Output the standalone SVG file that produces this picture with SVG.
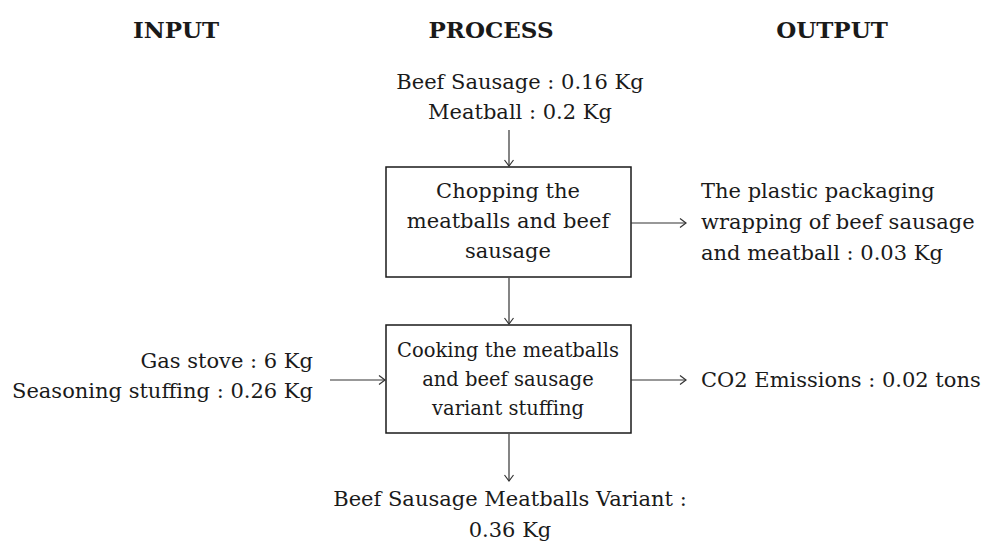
<svg xmlns="http://www.w3.org/2000/svg" width="989" height="543" viewBox="0 0 989 543">
<style>
text{font-family:"DejaVu Serif","Liberation Serif",serif;fill:#1a1a1a;font-size:21px}
.h{font-weight:bold;font-size:23px;text-anchor:middle}
.c{text-anchor:middle}
.r{text-anchor:end}
.s{font-size:19.5px}
.box{fill:#fff;stroke:#1a1a1a;stroke-width:1.5}
.ln{stroke:#333;stroke-width:1.2;fill:none;marker-end:url(#a)}
</style>
<defs>
<marker id="a" markerWidth="12" markerHeight="12" refX="9" refY="6" orient="auto" markerUnits="userSpaceOnUse">
<polyline points="3,1.5 9,6 3,10.5" fill="none" stroke="#333" stroke-width="1.2"/>
</marker>
</defs>
<rect width="989" height="543" fill="#fff"/>
<g id="headers">
<text class="h" x="176" y="38">INPUT</text>
<text class="h" x="491" y="38">PROCESS</text>
<text class="h" x="832" y="38">OUTPUT</text>
</g>
<g id="in1">
<text class="c" x="520" y="89">Beef Sausage : 0.16 Kg</text>
<text class="c" x="520" y="119">Meatball : 0.2 Kg</text>
</g>
<g id="p1">
<rect class="box" x="386" y="167" width="245" height="110"/>
<text class="c" x="508" y="198">Chopping the</text>
<text class="c" x="508" y="228">meatballs and beef</text>
<text class="c" x="508" y="258">sausage</text>
</g>
<g id="p2">
<rect class="box" x="386" y="325" width="245" height="108"/>
<text class="c s" x="508" y="357">Cooking the meatballs</text>
<text class="c s" x="508" y="386">and beef sausage</text>
<text class="c s" x="508" y="415">variant stuffing</text>
</g>
<g id="in2">
<text class="r" x="313" y="368">Gas stove : 6 Kg</text>
<text class="r" x="313" y="398">Seasoning stuffing : 0.26 Kg</text>
</g>
<g id="out1">
<text x="701" y="198">The plastic packaging</text>
<text x="701" y="229">wrapping of beef sausage</text>
<text x="701" y="260">and meatball : 0.03 Kg</text>
</g>
<g id="out2">
<text x="701" y="387">CO2 Emissions : 0.02 tons</text>
</g>
<g id="out3">
<text class="c" x="510" y="506">Beef Sausage Meatballs Variant :</text>
<text class="c" x="510" y="537">0.36 Kg</text>
</g>
<g id="connectors">
<line class="ln" x1="509" y1="130" x2="509" y2="166"/>
<line class="ln" x1="509" y1="278" x2="509" y2="324"/>
<line class="ln" x1="631" y1="223" x2="686" y2="223"/>
<line class="ln" x1="330" y1="380" x2="385" y2="380"/>
<line class="ln" x1="631" y1="380" x2="686" y2="380"/>
<line class="ln" x1="509" y1="434" x2="509" y2="481"/>
</g>
</svg>
